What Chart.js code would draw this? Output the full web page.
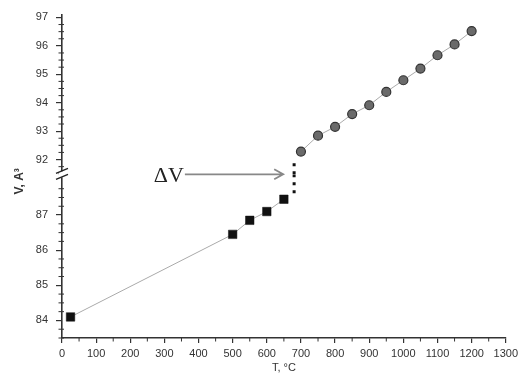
<!DOCTYPE html>
<html>
<head>
  <meta charset="utf-8">
  <script src="https://cdn.jsdelivr.net/npm/chart.js@4.4.1/dist/chart.umd.min.js"></script>
  <style>
    body { margin: 0; background: #fff; }
  </style>
</head>
<body>
<canvas id="myChart" width="522" height="380"></canvas>

<script>
// values
var tLow = [25, 500, 550, 600, 650];
var vLow = [84.1, 86.45, 86.85, 87.1, 87.45];
var tHigh = [700, 750, 800, 850, 900, 950, 1000, 1050, 1100, 1150, 1200];
var vHigh = [92.28, 92.84, 93.15, 93.6, 93.91, 94.38, 94.79, 95.2, 95.67, 96.05, 96.52];
// jump marker (dotted) and arrow
var jumpT = 680;
var jumpV = [87.62, 92.0];
var arrowT = [360, 648];
var arrowText = 'ΔV';
// axes
var xTicks = [0, 100, 200, 300, 400, 500, 600, 700, 800, 900, 1000, 1100, 1200, 1300];
var yLowTicks = [84, 85, 86, 87];
var yHighTicks = [92, 93, 94, 95, 96, 97];
var yLowRange = [83.5, 88.16];
var yHighRange = [91.48, 97.1];

var font = { family: '"Liberation Sans", Arial, sans-serif', size: 11 };
var axisColor = '#333';

function pts(xs, ys) {
  return xs.map(function(x, i) { return { x: x, y: ys[i] }; });
}

function plain(v) { return String(v); }

function yScale(range, ticks, weight) {
  return {
    type: 'linear',
    position: 'left',
    stack: 'v',
    stackWeight: weight,
    min: range[0],
    max: range[1],
    afterBuildTicks: function(s) { s.ticks = ticks.map(function(v) { return { value: v }; }); },
    afterFit: function(s) { s.width = 62; },
    grid: { drawOnChartArea: false, tickLength: 6, color: axisColor, lineWidth: 1.2 },
    border: { color: axisColor, width: 1.6 },
    ticks: { font: font, color: '#333', padding: 8, callback: plain }
  };
}

// minor ticks, axis break mark, arrow and label
var extras = {
  id: 'extras',
  afterDraw: function(chart) {
    var ctx = chart.ctx;
    var x = chart.scales.x, y = chart.scales.y, y2 = chart.scales.y2;
    ctx.save();
    ctx.strokeStyle = axisColor;
    ctx.lineWidth = 1;
    ctx.beginPath();
    for (var t = x.min + 50; t < x.max; t += 100) {
      var px = x.getPixelForValue(t);
      ctx.moveTo(px, x.top); ctx.lineTo(px, x.top + 3.5);
    }
    [y, y2].forEach(function(s) {
      for (var v = Math.ceil(s.min * 4) / 4; v <= s.max; v += 0.25) {
        if (Math.abs(v - Math.round(v)) < 0.01) continue;
        var py = s.getPixelForValue(v);
        ctx.moveTo(s.right - 3.5, py); ctx.lineTo(s.right + 2, py);
      }
    });
    ctx.stroke();

    // axis break
    var yb = (y.top + y2.bottom) / 2;
    if (Math.abs(y.top - y2.bottom) > 2) yb = (y.bottom + y2.top) / 2;
    var ax = y.right;
    ctx.fillStyle = '#fff';
    ctx.fillRect(ax - 3, yb - 3, 6, 6);
    ctx.strokeStyle = '#222';
    ctx.lineWidth = 1.4;
    ctx.beginPath();
    ctx.moveTo(ax - 6, yb - 1); ctx.lineTo(ax + 6, yb - 6);
    ctx.moveTo(ax - 6, yb + 5); ctx.lineTo(ax + 6, yb);
    ctx.stroke();

    // arrow
    var x1 = x.getPixelForValue(arrowT[0]), x2 = x.getPixelForValue(arrowT[1]);
    ctx.strokeStyle = '#888';
    ctx.lineWidth = 1.8;
    ctx.beginPath();
    ctx.moveTo(x1, yb); ctx.lineTo(x2, yb);
    ctx.moveTo(x2 - 9, yb - 5); ctx.lineTo(x2, yb); ctx.lineTo(x2 - 9, yb + 5);
    ctx.stroke();
    ctx.fillStyle = '#222';
    ctx.font = '22px "Liberation Serif", "Times New Roman", serif';
    ctx.textAlign = 'right';
    ctx.textBaseline = 'middle';
    ctx.fillText(arrowText, x1 - 1, yb + 2);

    // y title
    ctx.translate(20, (chart.chartArea.top + chart.chartArea.bottom) / 2 + 5);
    ctx.rotate(-Math.PI / 2);
    ctx.textAlign = 'center';
    ctx.font = 'bold 12px "Liberation Sans", Arial, sans-serif';
    ctx.fillStyle = '#333';
    ctx.fillText('V, A³', 0, 0);
    ctx.restore();
  }
};

var ctx = document.getElementById('myChart').getContext('2d');
var myChart = new Chart(ctx, {
  type: 'scatter',
  data: {
    datasets: [
      {
        data: pts(tLow, vLow),
        yAxisID: 'y',
        showLine: true,
        borderColor: '#aaa',
        borderWidth: 1,
        pointStyle: 'rect',
        pointRadius: 6,
        pointBackgroundColor: '#111',
        pointBorderColor: '#111',
        pointBorderWidth: 0.5
      },
      {
        data: pts(tHigh, vHigh),
        yAxisID: 'y2',
        showLine: true,
        borderColor: '#aaa',
        borderWidth: 1,
        pointStyle: 'circle',
        pointRadius: 4.5,
        pointBackgroundColor: '#6a6a6a',
        pointBorderColor: '#333',
        pointBorderWidth: 1.2
      },
      {
        data: [{ x: jumpT, y: jumpV[0] }, { x: jumpT, y: yLowRange[1] }],
        yAxisID: 'y',
        showLine: true,
        borderColor: '#111',
        borderWidth: 3,
        borderDash: [3, 5],
        pointRadius: 0
      },
      {
        data: [{ x: jumpT, y: yHighRange[0] }, { x: jumpT, y: jumpV[1] }],
        yAxisID: 'y2',
        showLine: true,
        borderColor: '#111',
        borderWidth: 3,
        borderDash: [3, 5],
        pointRadius: 0
      }
    ]
  },
  options: {
    responsive: false,
    animation: false,
    layout: { padding: { top: 12, right: 15, left: 0, bottom: 0 } },
    plugins: { legend: { display: false }, tooltip: { enabled: false } },
    scales: {
      x: {
        type: 'linear',
        min: 0,
        max: 1300,
        afterBuildTicks: function(s) { s.ticks = xTicks.map(function(v) { return { value: v }; }); },
        afterFit: function(s) { s.height = 42; },
        grid: { drawOnChartArea: false, tickLength: 5, color: axisColor, lineWidth: 1.2 },
        border: { color: axisColor, width: 1.6 },
        ticks: { font: font, color: '#333', padding: 4, maxRotation: 0, callback: plain },
        title: { display: true, text: 'T, °C', font: font, color: '#333', padding: { top: 0, bottom: 5 } }
      },
      y: yScale(yLowRange, yLowTicks, 165),
      y2: yScale(yHighRange, yHighTicks, 161)
    }
  },
  plugins: [extras]
});
</script>
</body>
</html>
